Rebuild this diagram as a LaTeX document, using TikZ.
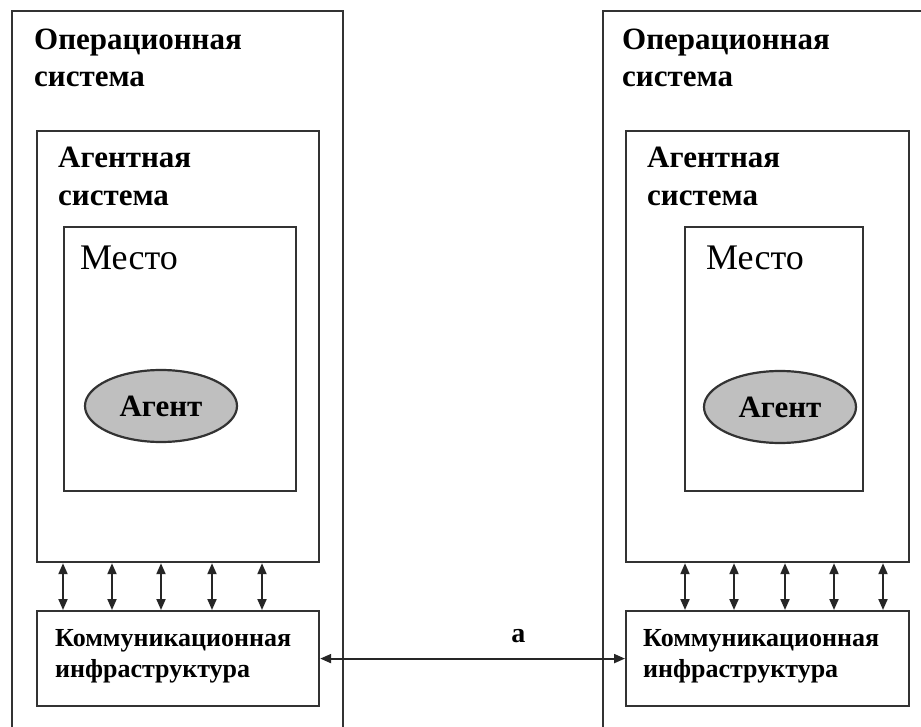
\documentclass[tikz,border=0pt]{standalone}
\usepackage{fontspec}
\setmainfont{Liberation Serif}
\usetikzlibrary{arrows.meta,shapes.geometric}
\begin{document}
\begin{tikzpicture}[x=1pt,y=-1pt,
  frame/.style={draw=black!80, line width=2.2pt, inner sep=0pt, anchor=north west},
  head/.style={anchor=base west, inner sep=0pt, font=\bfseries\fontsize{31}{34}\selectfont},
  placelbl/.style={anchor=base west, inner sep=0pt, font=\fontsize{36}{40}\selectfont},
  infra/.style={anchor=base west, inner sep=0pt, font=\bfseries\fontsize{26}{30}\selectfont},
  agentnode/.style={draw=black!80, line width=2.2pt, fill=black!25, ellipse, minimum width=152pt, minimum height=72pt, inner sep=0pt, font=\bfseries\fontsize{31}{34}\selectfont},
  link/.style={draw=black!85, line width=2pt, {Triangle[length=11pt,width=9pt]}-{Triangle[length=11pt,width=9pt]}}
]
\useasboundingbox (0,0) rectangle (921,727);
\fill[white] (0,0) rectangle (921,727);

% ---- left host ----
\node[frame, minimum width=331pt, minimum height=760pt] (L-os) at (11,10) {};
\node[frame, minimum width=282pt, minimum height=431pt] (L-as) at (36,130) {};
\node[frame, minimum width=232pt, minimum height=264pt] (L-pl) at (63,226) {};
\node[frame, minimum width=282pt, minimum height=95pt] (L-cm) at (36,610) {};
\node[agentnode] (L-ag) at (161,406) {Агент};
\node[head] (L-os1) at (34,50) {Операционная};
\node[head] (L-os2) at (34,87) {система};
\node[head] (L-as1) at (58,168) {Агентная};
\node[head] (L-as2) at (58,206) {система};
\node[placelbl] (L-pll) at (80,270) {Место};
\node[infra] (L-cm1) at (55,646) {Коммуникационная};
\node[infra] (L-cm2) at (55,677) {инфраструктура};
\foreach \d in {27,76,125,176,226}
  \draw[link] ([xshift=\d pt]L-as.south west) -- ([xshift=\d pt]L-cm.north west);

% ---- right host ----
\node[frame, minimum width=340pt, minimum height=760pt] (R-os) at (602,10) {};
\node[frame, minimum width=283pt, minimum height=431pt] (R-as) at (625,130) {};
\node[frame, minimum width=178pt, minimum height=264pt] (R-pl) at (684,226) {};
\node[frame, minimum width=283pt, minimum height=95pt] (R-cm) at (625,610) {};
\node[agentnode] (R-ag) at (780,407) {Агент};
\node[head] (R-os1) at (622,50) {Операционная};
\node[head] (R-os2) at (622,87) {система};
\node[head] (R-as1) at (647,168) {Агентная};
\node[head] (R-as2) at (647,206) {система};
\node[placelbl] (R-pll) at (706,270) {Место};
\node[infra] (R-cm1) at (643,646) {Коммуникационная};
\node[infra] (R-cm2) at (643,677) {инфраструктура};
\foreach \d in {60,109,160,209,258}
  \draw[link] ([xshift=\d pt]R-as.south west) -- ([xshift=\d pt]R-cm.north west);

% ---- link between the two communication layers ----
\draw[link] (L-cm) -- (R-cm) node[pos=0.65, anchor=base, yshift=16pt, inner sep=0pt, font=\bfseries\fontsize{28}{30}\selectfont] (lbl-a) {a};
\end{tikzpicture}
\end{document}
